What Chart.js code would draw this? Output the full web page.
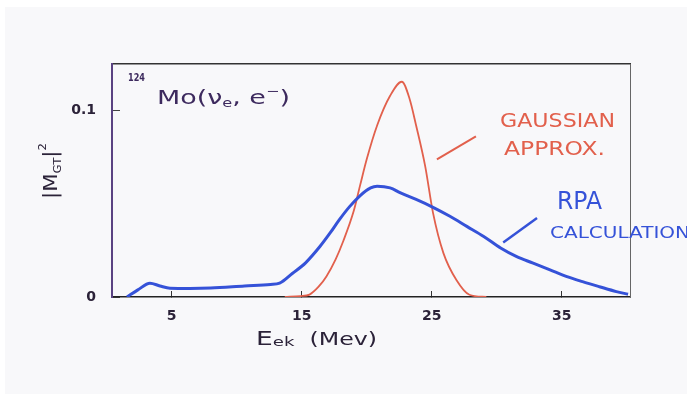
<!DOCTYPE html>
<html>
<head>
<meta charset="utf-8">
<script src="https://cdn.jsdelivr.net/npm/chart.js@4/dist/chart.umd.min.js"></script>
<style>
  html, body { margin: 0; padding: 0; background: #ffffff; }
  canvas { display: block; }
</style>
</head>
<body>
<canvas id="chart" width="687" height="394"></canvas>
<script>
// RPA calculation of the Gamow-Teller strength, |M_GT|^2 vs excitation energy (MeV)
const rpaEnergy   = [1.56, 2.4, 3.33, 4.1, 4.87, 6.4, 8.0, 10.6, 12.6, 13.3, 14.3, 15.3, 16.4, 17.2, 17.9, 18.7, 19.5, 20.3, 20.8, 21.8, 22.6, 23.8, 25.1, 26.4, 27.7, 29.0, 30.3, 31.5, 32.8, 34.1, 35.4, 36.6, 37.9, 39.2, 40.1];
const rpaStrength = [0.0, 0.0038, 0.0074, 0.0059, 0.0047, 0.0046, 0.0048, 0.0059, 0.0067, 0.0074, 0.0127, 0.0183, 0.027, 0.0344, 0.0414, 0.0485, 0.0543, 0.0584, 0.0593, 0.0584, 0.0557, 0.0522, 0.048, 0.0432, 0.0378, 0.0324, 0.0262, 0.0217, 0.0181, 0.0145, 0.0109, 0.0082, 0.0055, 0.0029, 0.0015];

// Gaussian approximation of the same strength
const gaussEnergy   = [13.7, 14.9, 15.6, 16.3, 16.9, 17.6, 18.2, 19.0, 19.5, 20.0, 20.8, 21.8, 22.7, 23.3, 23.8, 24.5, 25.1, 25.9, 26.9, 27.9, 29.2];
const gaussStrength = [0.0, 0.0005, 0.0013, 0.0055, 0.011, 0.02, 0.03, 0.046, 0.06, 0.0737, 0.0918, 0.1077, 0.1152, 0.106, 0.0918, 0.0699, 0.045, 0.0235, 0.0091, 0.0012, 0.0];

// Pointer strokes from the curve labels to the curves
const gaussPointerEnergy   = [25.4, 28.4];
const gaussPointerStrength = [0.0737, 0.086];
const rpaPointerEnergy     = [30.5, 33.1];
const rpaPointerStrength   = [0.0292, 0.0423];

// Axis ticks
const xTickValues = [5, 15, 25, 35];
const yTickValues = [0, 0.1];
const yTickLabels = ['0', '0.1'];

const X_MIN = 0.41, X_MAX = 40.25;
const Y_MIN = 0, Y_MAX = 0.1247;

const RED = '#e2604c';
const BLUE = '#3552d8';
const INK = '#2b2238';
const PURPLE_INK = '#3d2a5e';
const FONT = '"DejaVu Sans", sans-serif';

const toPoints = (xs, ys) => xs.map((x, i) => ({ x: x, y: ys[i] }));

// Draw a run of text pieces (with sub/superscripts) squeezed to a given width
function drawRun(ctx, parts, width) {
  let natural = 0;
  parts.forEach(p => {
    ctx.font = (p.weight || 'normal') + ' ' + p.size + 'px ' + FONT;
    natural += ctx.measureText(p.t).width;
  });
  const sx = width / natural;
  ctx.save();
  ctx.scale(sx, 1);
  let x = 0;
  parts.forEach(p => {
    ctx.font = (p.weight || 'normal') + ' ' + p.size + 'px ' + FONT;
    ctx.fillText(p.t, x, p.dy || 0);
    x += ctx.measureText(p.t).width;
  });
  ctx.restore();
}

const paperPlugin = {
  id: 'paper',
  beforeDraw(chart) {
    const ctx = chart.ctx;
    ctx.save();
    ctx.fillStyle = '#ffffff';
    ctx.fillRect(0, 0, chart.width, chart.height);
    ctx.fillStyle = '#f8f8fa';
    ctx.fillRect(5, 7, chart.width - 5, chart.height - 7);
    ctx.restore();
  }
};

const labelsPlugin = {
  id: 'labels',
  afterDraw(chart) {
    const ctx = chart.ctx;
    ctx.save();
    ctx.textBaseline = 'alphabetic';
    ctx.textAlign = 'left';

    // Nucleus and reaction
    ctx.fillStyle = PURPLE_INK;
    ctx.save(); ctx.translate(128, 81);
    drawRun(ctx, [{ t: '124', size: 10, weight: 'bold' }], 17);
    ctx.restore();
    ctx.save(); ctx.translate(157, 104);
    drawRun(ctx, [
      { t: 'Mo(\u03BD', size: 20 },
      { t: 'e', size: 12, dy: 3 },
      { t: ', e', size: 20 },
      { t: '\u2212', size: 12, dy: -9 },
      { t: ')', size: 20 }
    ], 133);
    ctx.restore();

    // Vertical axis title |M_GT|^2
    ctx.fillStyle = INK;
    ctx.save(); ctx.translate(57, 199); ctx.rotate(-Math.PI / 2);
    drawRun(ctx, [
      { t: '|M', size: 20 },
      { t: 'GT', size: 11, dy: 4 },
      { t: '|', size: 20 },
      { t: '2', size: 11, dy: -11 }
    ], 56);
    ctx.restore();

    // Horizontal axis title
    ctx.save(); ctx.translate(256, 345);
    drawRun(ctx, [
      { t: 'E', size: 19 },
      { t: 'ek', size: 13, dy: 1 },
      { t: '  (Mev)', size: 17 }
    ], 121);
    ctx.restore();

    // Curve labels
    ctx.fillStyle = RED;
    ctx.save(); ctx.translate(500, 127);
    drawRun(ctx, [{ t: 'GAUSSIAN', size: 20 }], 115);
    ctx.restore();
    ctx.save(); ctx.translate(504, 155);
    drawRun(ctx, [{ t: 'APPROX.', size: 20 }], 101);
    ctx.restore();

    ctx.fillStyle = BLUE;
    ctx.save(); ctx.translate(557, 209);
    drawRun(ctx, [{ t: 'RPA', size: 24 }], 45);
    ctx.restore();
    ctx.save(); ctx.translate(550, 238);
    drawRun(ctx, [{ t: 'CALCULATION', size: 16 }], 140);
    ctx.restore();

    ctx.restore();
  }
};

const fixedTicks = values => function (scale) {
  scale.ticks = values.map(v => ({ value: v }));
};

new Chart(document.getElementById('chart'), {
  type: 'line',
  data: {
    datasets: [
      {
        label: 'RPA calculation',
        data: toPoints(rpaEnergy, rpaStrength),
        borderColor: BLUE,
        borderWidth: 3,
        pointRadius: 0,
        cubicInterpolationMode: 'monotone',
        fill: false
      },
      {
        label: 'Gaussian approx.',
        data: toPoints(gaussEnergy, gaussStrength),
        borderColor: RED,
        borderWidth: 1.8,
        pointRadius: 0,
        cubicInterpolationMode: 'monotone',
        fill: false
      },
      {
        label: 'gaussian pointer',
        data: toPoints(gaussPointerEnergy, gaussPointerStrength),
        borderColor: RED,
        borderWidth: 2,
        pointRadius: 0,
        fill: false
      },
      {
        label: 'rpa pointer',
        data: toPoints(rpaPointerEnergy, rpaPointerStrength),
        borderColor: BLUE,
        borderWidth: 2.5,
        pointRadius: 0,
        fill: false
      }
    ]
  },
  options: {
    responsive: false,
    devicePixelRatio: 1,
    animation: false,
    layout: { padding: 0 },
    plugins: {
      legend: { display: false },
      tooltip: { enabled: false },
      title: { display: false }
    },
    scales: {
      x: {
        type: 'linear',
        position: 'bottom',
        min: X_MIN,
        max: X_MAX,
        afterBuildTicks: fixedTicks(xTickValues),
        afterFit(scale) { scale.height = 97; },
        grid: { drawOnChartArea: false, drawTicks: true, tickLength: -6, color: '#333', lineWidth: 1 },
        border: { display: true, color: '#222', width: 1.5 },
        ticks: {
          padding: 17,
          color: INK,
          font: { family: FONT, size: 14, weight: 'bold' },
          maxRotation: 0,
          autoSkip: false,
          callback: v => String(v)
        }
      },
      xTop: {
        type: 'linear',
        axis: 'x',
        position: 'top',
        min: X_MIN,
        max: X_MAX,
        afterFit(scale) { scale.height = 64; },
        grid: { drawOnChartArea: false, drawTicks: false },
        border: { display: true, color: '#333', width: 1.5 },
        ticks: { display: false }
      },
      y: {
        type: 'linear',
        position: 'left',
        min: Y_MIN,
        max: Y_MAX,
        afterBuildTicks: fixedTicks(yTickValues),
        afterFit(scale) { scale.width = 112; },
        grid: { drawOnChartArea: false, drawTicks: true, tickLength: -8, color: '#444', lineWidth: 1 },
        border: { display: true, color: '#5a4282', width: 2 },
        ticks: {
          padding: 24,
          color: INK,
          font: { family: FONT, size: 14, weight: 'bold' },
          autoSkip: false,
          callback: v => yTickLabels[yTickValues.indexOf(v)] ?? ''
        }
      },
      yRight: {
        type: 'linear',
        axis: 'y',
        position: 'right',
        min: Y_MIN,
        max: Y_MAX,
        afterFit(scale) { scale.width = 57; },
        grid: { drawOnChartArea: false, drawTicks: false },
        border: { display: true, color: '#666', width: 1 },
        ticks: { display: false }
      }
    }
  },
  plugins: [paperPlugin, labelsPlugin]
});
</script>
</body>
</html>
